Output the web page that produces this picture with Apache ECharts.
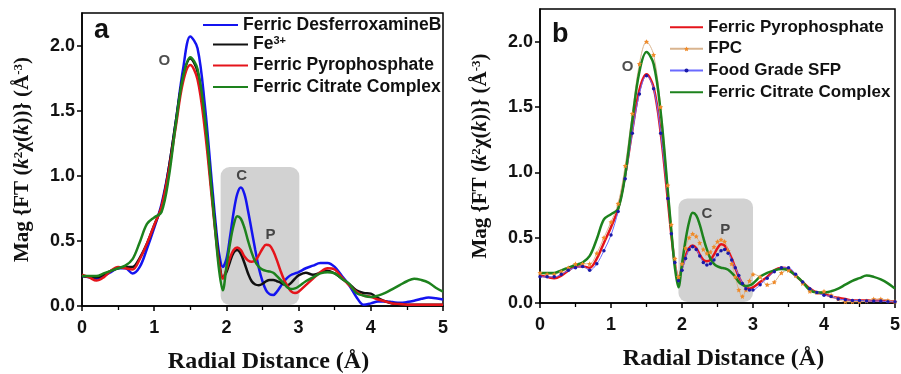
<!DOCTYPE html>
<html><head><meta charset="utf-8">
<script src="https://cdn.jsdelivr.net/npm/echarts@6/dist/echarts.min.js"></script>
<style>html,body{margin:0;padding:0;background:#fff}#c{width:901px;height:374px}</style>
</head><body><div id="c"></div>
<script>
// Radial distance grid (Å)
const R = [0,0.1,0.2,0.3,0.4,0.5,0.6,0.7,0.8,0.9,
  1.0,1.1,1.2,1.3,1.4,1.5,1.6,1.7,1.8,
  1.85,1.9,1.95,2.0,2.05,2.1,2.15,2.2,2.25,2.3,2.35,2.4,
  2.45,2.5,2.55,2.6,2.65,2.7,2.75,2.8,2.85,2.9,2.95,3.0,
  3.1,3.2,3.3,3.4,3.5,3.6,3.7,3.8,3.9,4.0,
  4.1,4.2,4.3,4.4,4.5,4.6,4.7,4.8,4.9,5.0];

// Panel a
const dfoA = [0.23,0.22,0.21,0.23,0.26,0.29,0.29,0.25,0.30,0.44,
  0.60,0.78,1.05,1.42,1.82,2.07,1.98,1.55,0.94,
  0.64,0.40,0.30,0.36,0.53,0.72,0.86,0.91,0.86,0.73,0.58,0.43,
  0.29,0.19,0.12,0.09,0.085,0.11,0.15,0.19,0.22,0.24,0.25,0.26,
  0.29,0.31,0.33,0.33,0.30,0.23,0.16,0.07,0.01,0.02,
  0.035,0.035,0.03,0.025,0.03,0.04,0.055,0.065,0.06,0.05];
const fe3A = [0.23,0.225,0.22,0.24,0.27,0.29,0.30,0.30,0.37,0.48,
  0.62,0.76,1.05,1.42,1.76,1.90,1.80,1.42,0.86,
  0.58,0.34,0.22,0.26,0.34,0.41,0.43,0.40,0.33,0.25,0.19,0.165,
  0.16,0.17,0.19,0.20,0.20,0.19,0.18,0.165,0.16,0.18,0.21,0.235,
  0.255,0.24,0.255,0.27,0.25,0.21,0.17,0.12,0.10,0.095,
  0.06,0.035,0.02,0.015,0.01,0.01,0.01,0.01,0.01,0.01];
const fppA = [0.24,0.22,0.195,0.22,0.27,0.30,0.29,0.28,0.36,0.48,
  0.62,0.76,1.03,1.38,1.72,1.85,1.74,1.36,0.82,
  0.55,0.32,0.21,0.28,0.37,0.43,0.45,0.43,0.38,0.35,0.34,0.35,
  0.39,0.44,0.47,0.465,0.42,0.35,0.27,0.20,0.15,0.11,0.10,0.11,
  0.16,0.21,0.26,0.29,0.28,0.22,0.16,0.11,0.08,0.07,
  0.05,0.035,0.02,0.015,0.01,0.01,0.01,0.01,0.01,0.01];
const fccA = [0.23,0.23,0.23,0.25,0.27,0.29,0.31,0.36,0.49,0.63,
  0.68,0.72,0.98,1.40,1.76,1.91,1.82,1.45,0.86,
  0.55,0.27,0.12,0.30,0.48,0.62,0.69,0.67,0.60,0.50,0.41,0.34,
  0.30,0.28,0.27,0.265,0.255,0.23,0.20,0.17,0.14,0.13,0.135,0.15,
  0.19,0.22,0.25,0.26,0.25,0.21,0.17,0.10,0.08,0.07,
  0.08,0.10,0.13,0.16,0.19,0.21,0.20,0.18,0.14,0.11];

// Panel b
const fppB = [0.21,0.20,0.19,0.21,0.25,0.28,0.28,0.27,0.34,0.46,
  0.58,0.72,0.98,1.32,1.63,1.75,1.65,1.30,0.79,
  0.52,0.30,0.19,0.27,0.36,0.42,0.44,0.42,0.37,0.33,0.32,0.33,
  0.37,0.42,0.45,0.44,0.40,0.34,0.27,0.20,0.15,0.12,0.11,0.12,
  0.16,0.20,0.25,0.27,0.26,0.21,0.16,0.11,0.08,0.07,
  0.05,0.04,0.03,0.02,0.02,0.02,0.02,0.02,0.015,0.01];
const fpcB = [0.23,0.22,0.22,0.24,0.27,0.30,0.30,0.30,0.38,0.50,
  0.62,0.76,1.05,1.45,1.83,2.00,1.90,1.50,0.90,
  0.60,0.34,0.20,0.30,0.42,0.50,0.53,0.51,0.46,0.41,0.38,0.39,
  0.43,0.47,0.485,0.47,0.40,0.30,0.20,0.10,0.05,0.10,0.17,0.22,
  0.20,0.14,0.16,0.23,0.25,0.21,0.15,0.09,0.08,0.09,
  0.06,0.03,0.01,0.01,0.01,0.015,0.03,0.03,0.02,0.01];
const sfpB = [0.20,0.20,0.20,0.22,0.25,0.27,0.28,0.25,0.30,0.40,
  0.52,0.70,0.95,1.30,1.60,1.74,1.64,1.30,0.80,
  0.53,0.31,0.17,0.25,0.34,0.41,0.43,0.41,0.36,0.31,0.29,0.30,
  0.33,0.37,0.40,0.41,0.38,0.33,0.27,0.21,0.15,0.11,0.10,0.10,
  0.14,0.19,0.24,0.27,0.27,0.22,0.16,0.11,0.08,0.06,
  0.05,0.03,0.025,0.02,0.02,0.015,0.015,0.015,0.01,0.01];
const fccB = [0.23,0.23,0.23,0.25,0.27,0.29,0.31,0.36,0.49,0.64,
  0.68,0.72,0.98,1.40,1.77,1.92,1.83,1.46,0.86,
  0.55,0.27,0.12,0.30,0.48,0.62,0.69,0.67,0.60,0.50,0.41,0.34,
  0.30,0.28,0.27,0.265,0.255,0.23,0.20,0.16,0.14,0.13,0.135,0.15,
  0.20,0.23,0.25,0.26,0.25,0.21,0.16,0.10,0.08,0.08,
  0.09,0.11,0.14,0.17,0.19,0.21,0.20,0.18,0.15,0.11];

const xTicks = [0,1,2,3,4,5];
const yTicks = [0,0.5,1.0,1.5,2.0];
// shaded region [x0, y0, x1, y1]
const boxA = [1.92, 0, 3.01, 1.067];
const boxB = [1.95, 0, 3.0, 0.80];
// peak annotations
const notesA = [['O',1.14,1.885],['C',2.21,1.0],['P',2.61,0.55]];
const notesB = [['O',1.235,1.81],['C',2.35,0.68],['P',2.61,0.56]];

const SANS = 'Liberation Sans, Arial, sans-serif';
const SERIF = 'Liberation Serif, Times New Roman, serif';
const pair = arr => R.map((x,i)=>[x,arr[i]]);

function xAx(g){
  return {type:'value', gridIndex:g, min:xTicks[0], max:xTicks[xTicks.length-1], interval:1,
    axisLine:{lineStyle:{color:'#000',width:1.5}},
    axisTick:{length:5, lineStyle:{color:'#000',width:1.5}},
    minorTick:{show:true, splitNumber:2, length:4, lineStyle:{color:'#000',width:1.3}},
    splitLine:{show:false},
    axisLabel:{fontSize:18, fontWeight:'bold', fontFamily:SANS, color:'#111', margin:13},
    name:'Radial Distance (Å)', nameLocation:'middle', nameGap:44,
    nameTextStyle:{fontSize:24, fontWeight:'bold', fontFamily:SERIF, color:'#111', padding:[0,0,0,12]}
  };
}
function yAx(g){
  return {type:'value', gridIndex:g, min:yTicks[0], max:2.25, interval:0.5,
    axisLine:{lineStyle:{color:'#000',width:1.5}},
    axisTick:{length:5, lineStyle:{color:'#000',width:1.5}},
    splitLine:{show:false},
    axisLabel:{fontSize:18, fontWeight:'bold', fontFamily:SANS, color:'#111', margin:7,
      showMaxLabel:false, formatter:v=>v.toFixed(1)},
    name:'Mag {FT ({i|k}{s|2}χ({i|k}))} (Å{s|-3})', nameLocation:'middle', nameGap:49,
    nameTextStyle:{fontSize:21, fontWeight:'bold', fontFamily:SERIF, color:'#111',
      rich:{
        i:{fontSize:21, fontWeight:'bold', fontStyle:'italic', fontFamily:SERIF, color:'#111'},
        s:{fontSize:13, fontWeight:'bold', fontFamily:SERIF, color:'#111', verticalAlign:'top', lineHeight:21}
      }}
  };
}
function boxSeries(g, box){
  return {type:'custom', xAxisIndex:g, yAxisIndex:g, z:1, silent:true,
    data:[box], encode:{x:[0,2], y:[1,3]},
    renderItem:(params, api)=>{
      const p0 = api.coord([api.value(0), api.value(3)]);
      const p1 = api.coord([api.value(2), api.value(1)]);
      return {type:'rect', shape:{x:p0[0], y:p0[1], width:p1[0]-p0[0], height:p1[1]-p0[1]-1, r:9},
        style:{fill:'#d2d2d2'}};
    }};
}
function noteSeries(g, notes){
  return {type:'scatter', xAxisIndex:g, yAxisIndex:g, z:5, silent:true, symbolSize:1,
    itemStyle:{color:'rgba(0,0,0,0)'},
    data:notes.map(n=>({name:n[0], value:[n[1], n[2]]})),
    label:{show:true, position:'inside', formatter:'{b}', fontSize:15, fontWeight:'bold',
      fontFamily:SANS, color:'#222'}};
}
function lineSeries(g, name, arr, color, width, extra){
  return Object.assign({type:'line', name:name, xAxisIndex:g, yAxisIndex:g, z:3,
    data:pair(arr), smooth:0.35, symbol:'none', showSymbol:false,
    lineStyle:{color:color, width:width}, itemStyle:{color:color}}, extra||{});
}
function legText(fs){
  return {fontSize:fs, fontWeight:'bold', fontFamily:SANS, color:'#111',
    rich:{s:{fontSize:11, fontWeight:'bold', fontFamily:SANS, color:'#111', verticalAlign:'top', lineHeight:18}}};
}
function leg(name, left, cy, w, opts){
  opts = opts || {};
  const o = {data:[name], left:left, top:cy-8, padding:0, itemWidth:w, itemHeight:opts.h||14,
    textStyle:legText(opts.fs||17.5), selectedMode:false};
  if (!opts.marker) o.itemStyle = {opacity:0};
  if (opts.fmt) o.formatter = opts.fmt;
  return o;
}

const STAR = 'path://M0,-10L2.9,-4L9.5,-3.1L4.7,1.5L5.9,8.1L0,5L-5.9,8.1L-4.7,1.5L-9.5,-3.1L-2.9,-4Z';

const option = {
  animation:false,
  backgroundColor:'#fff',
  grid:[
    {left:82, top:13, width:361, height:293, show:true, borderColor:'#000', borderWidth:1.5,
      backgroundColor:'rgba(0,0,0,0)', outerBoundsMode:'none', containLabel:false},
    {left:540, top:9, width:355, height:294, show:true, borderColor:'#000', borderWidth:1.5,
      backgroundColor:'rgba(0,0,0,0)', outerBoundsMode:'none', containLabel:false}
  ],
  xAxis:[xAx(0), xAx(1)],
  yAxis:[yAx(0), yAx(1)],
  legend:[
    leg('Ferric DesferroxamineB', 202, 24, 35),
    leg('Fe3+', 212, 43.5, 35, {fmt:'Fe{s|3+}'}),
    leg('Ferric Pyrophosphate', 212, 64.5, 35),
    leg('Ferric Citrate Complex', 212, 86, 35),
    leg('Ferric Pyrophosphate ', 669, 26.7, 33, {fs:17}),
    leg('FPC', 669, 48.3, 33, {marker:true, h:6, fs:17}),
    leg('Food Grade SFP', 669, 70, 33, {marker:true, h:5, fs:17}),
    leg('Ferric Citrate Complex ', 669, 91.7, 33, {fs:17})
  ],
  graphic:[
    {type:'text', left:94, top:17, style:{text:'a', font:'bold 27px '+SANS, fill:'#111'}},
    {type:'text', left:552, top:21, style:{text:'b', font:'bold 27px '+SANS, fill:'#111'}}
  ],
  series:[
    boxSeries(0, boxA),
    boxSeries(1, boxB),
    lineSeries(0, 'Ferric DesferroxamineB', dfoA, '#1414f0', 2.5),
    lineSeries(0, 'Fe3+', fe3A, '#111111', 2.5),
    lineSeries(0, 'Ferric Pyrophosphate', fppA, '#e5141b', 2.5),
    lineSeries(0, 'Ferric Citrate Complex', fccA, '#1d821d', 2.5),
    lineSeries(1, 'Ferric Pyrophosphate ', fppB, '#e5141b', 2.5),
    lineSeries(1, 'FPC', fpcB, '#d9b48f', 1, {symbol:STAR, showSymbol:true, symbolSize:5,
      itemStyle:{color:'#f08a28'}}),
    lineSeries(1, 'Food Grade SFP', sfpB, '#6a6aff', 1, {symbol:'circle', showSymbol:true, symbolSize:3.5,
      itemStyle:{color:'#1a1aa8'}}),
    lineSeries(1, 'Ferric Citrate Complex ', fccB, '#1d821d', 2.5),
    noteSeries(0, notesA),
    noteSeries(1, notesB)
  ]
};
const chart = echarts.init(document.getElementById('c'), null, {renderer:'canvas'});
chart.setOption(option);
</script></body></html>
